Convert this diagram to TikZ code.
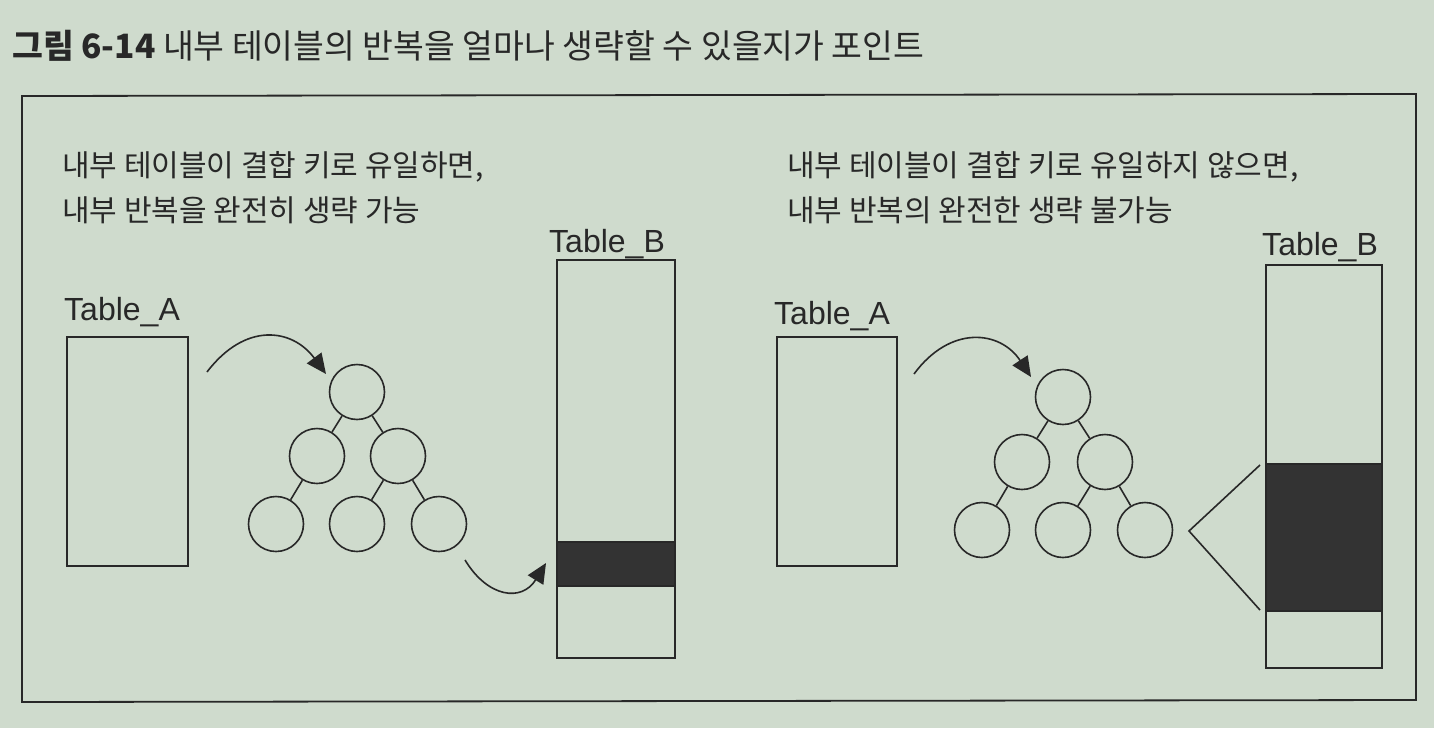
\documentclass[tikz,border=0pt]{standalone}
\usepackage{fontspec}
\setmainfont{Liberation Sans}
\newfontfamily\kr{Noto Sans CJK KR}
\newfontfamily\lat{Liberation Sans}
\usetikzlibrary{arrows.meta}
\definecolor{bg}{RGB}{207,219,205}
\definecolor{ink}{RGB}{40,40,40}
\tikzset{
  tnode/.style={circle,draw=ink,line width=1.6pt,minimum size=55pt,inner sep=0pt},
  tedge/.style={draw=ink,line width=1.6pt},
  tbl/.style={draw=ink,line width=1.6pt},
  dark/.style={fill=ink!95,draw=ink,line width=1.6pt},
  curv/.style={draw=ink,line width=1.6pt,-{Triangle[length=20pt,width=18pt]}},
  body/.style={font=\kr\fontsize{30}{34}\selectfont,text=ink,anchor=base west,inner sep=0pt},
  lab/.style={font=\lat\fontsize{32}{36}\selectfont,text=ink,anchor=base west,inner sep=0pt},
}
\begin{document}
\begin{tikzpicture}[x=1pt,y=-1pt]
\fill[bg] (0,0) rectangle (1434,728);
\useasboundingbox (0,0) rectangle (1434,728);
% title
\node[anchor=base west,inner sep=0pt,text=ink] (title) at (12,58)
  {\kr\fontsize{33.5}{36}\selectfont\textbf{그림 6-14} 내부 테이블의 반복을 얼마나 생략할 수 있을지가 포인트};
% frame
\draw[ink,line width=1.8pt] (22,96) -- (1416,94) -- (1416,700) -- (22,702) -- cycle;

% ---------- left panel ----------
\node[body] (l1) at (62,176) {내부 테이블이 결합 키로 유일하면,};
\node[body] (l2) at (62,221) {내부 반복을 완전히 생략 가능};
\node[lab] (lta) at (64,320) {Table\_A};
\draw[tbl] (67,337) rectangle (188,566);
\node[lab] (ltb) at (549,252) {Table\_B};
\draw[tbl] (557,260) rectangle (675,658);
\draw[dark] (557,542) rectangle (675,586);

\node[tnode] (la) at (357,392) {};
\node[tnode] (lb) at (317,456) {};
\node[tnode] (lc) at (398,456) {};
\node[tnode] (ld) at (276,524) {};
\node[tnode] (le) at (357,524) {};
\node[tnode] (lf) at (439,524) {};
\draw[tedge] (la) -- (lb);
\draw[tedge] (la) -- (lc);
\draw[tedge] (lb) -- (ld);
\draw[tedge] (lc) -- (le);
\draw[tedge] (lc) -- (lf);

\coordinate (ls1) at (207,372);
\coordinate (le1) at (326,374);
\draw[curv] (ls1) .. controls (245,322) and (292,328) .. (le1);
\coordinate (ls2) at (465,560);
\coordinate (le2) at (546,563);
\draw[curv] (ls2) .. controls (488,598) and (522,602) .. (le2);

% ---------- right panel ----------
\node[body] (r1) at (787,176) {내부 테이블이 결합 키로 유일하지 않으면,};
\node[body] (r2) at (787,221) {내부 반복의 완전한 생략 불가능};
\node[lab] (rta) at (774,324) {Table\_A};
\draw[tbl] (777,337) rectangle (897,566);
\node[lab] (rtb) at (1262,255) {Table\_B};
\draw[tbl] (1266,265) rectangle (1382,668);
\draw[dark] (1266,464) rectangle (1382,611);

\node[tnode] (ra) at (1063,397) {};
\node[tnode] (rb) at (1022,462) {};
\node[tnode] (rc) at (1105,462) {};
\node[tnode] (rd) at (982,530) {};
\node[tnode] (re) at (1063,530) {};
\node[tnode] (rf) at (1145,530) {};
\draw[tedge] (ra) -- (rb);
\draw[tedge] (ra) -- (rc);
\draw[tedge] (rb) -- (rd);
\draw[tedge] (rc) -- (re);
\draw[tedge] (rc) -- (rf);

\coordinate (rs1) at (914,374);
\coordinate (re1) at (1031,377);
\draw[curv] (rs1) .. controls (950,325) and (1000,330) .. (re1);

\coordinate (vt) at (1260,465);
\coordinate (va) at (1189,531);
\coordinate (vb) at (1260,610);
\draw[tedge] (vt) -- (va) -- (vb);
\end{tikzpicture}
\end{document}
